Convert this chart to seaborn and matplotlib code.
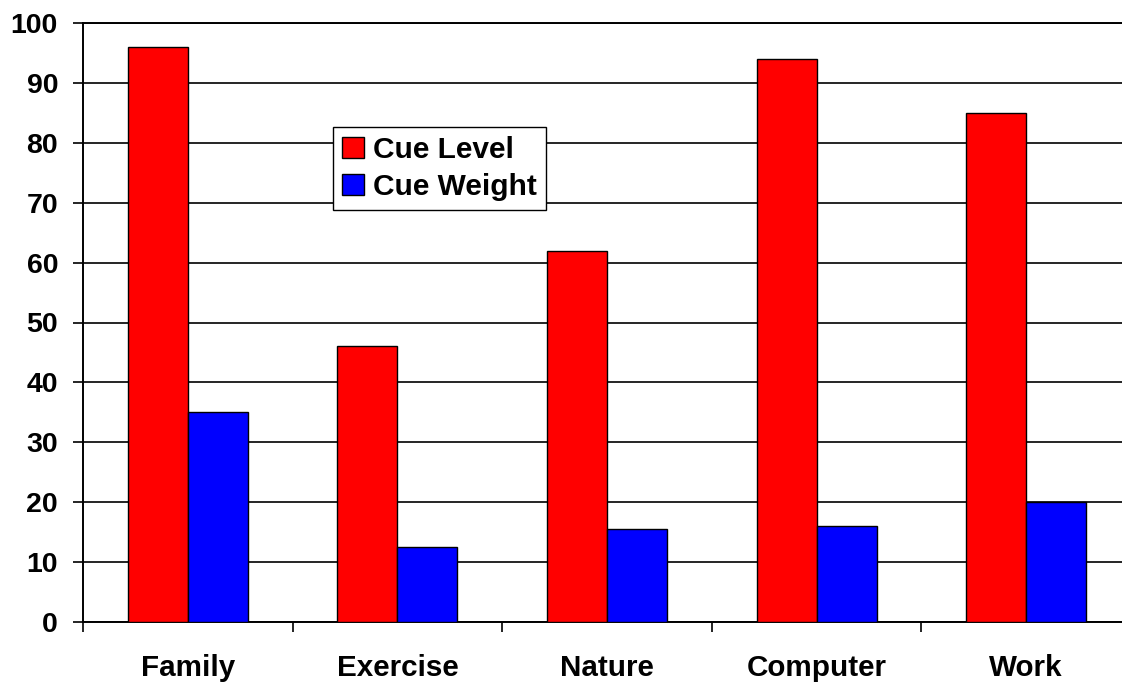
import matplotlib
matplotlib.use("Agg")
import matplotlib.pyplot as plt
import seaborn as sns
import pandas as pd
import numpy as np
from matplotlib.ticker import FixedLocator

categories = ["Family", "Exercise", "Nature", "Computer", "Work"]
cue_level = [96, 46, 62, 94, 85]
cue_weight = [35, 12.5, 15.5, 16, 20]
series_names = ["Cue Level", "Cue Weight"]
y_ticks = [0, 10, 20, 30, 40, 50, 60, 70, 80, 90, 100]

df = pd.DataFrame({
    "category": categories * 2,
    "value": cue_level + cue_weight,
    "series": [series_names[0]] * len(categories) + [series_names[1]] * len(categories),
})

sns.set_theme(style="white")
plt.rcParams["font.family"] = ["Liberation Sans", "DejaVu Sans"]
plt.rcParams["font.weight"] = "bold"
plt.rcParams["text.color"] = "black"
plt.rcParams["xtick.color"] = "black"
plt.rcParams["ytick.color"] = "black"

fig = plt.figure(figsize=(11.22, 6.83), dpi=100)
ax = fig.add_axes([83 / 1122, 61 / 683, 1039 / 1122, 599 / 683])

sns.barplot(data=df, x="category", y="value", hue="series", order=categories,
            hue_order=series_names, palette=["#FF0000", "#0000FF"],
            width=0.573, edgecolor="black", linewidth=1.0, saturation=1,
            ax=ax, zorder=3)

ax.set_ylim(0, 100)
ax.set_xlim(-0.5, -0.5 + 1039 / 209.6)
ax.set_yticks(y_ticks)
ax.set_yticklabels([str(t) for t in y_ticks], fontsize=20.5, fontweight="bold",
                   color="black")
ax.yaxis.grid(True, color="black", linewidth=1.2, zorder=0)
ax.set_axisbelow(True)

ax.set_xticks(range(len(categories)))
ax.set_xticklabels(categories, fontsize=21.3, fontweight="bold", color="black")
ax.xaxis.set_minor_locator(FixedLocator(np.arange(-0.5, len(categories), 1.0)))
ax.tick_params(axis="x", which="major", length=0, pad=23, colors="black")
ax.tick_params(axis="x", which="minor", length=7, width=1.2, direction="out",
               color="black", bottom=True)
ax.tick_params(axis="y", which="major", length=7, width=1.2, direction="out",
               color="black", left=True, pad=11, labelcolor="black")

ax.set_xlabel("")
ax.set_ylabel("")

for side in ["left", "bottom", "top"]:
    ax.spines[side].set_visible(True)
    ax.spines[side].set_color("black")
    ax.spines[side].set_linewidth(1.4)
ax.spines["right"].set_visible(False)

handles, labels = ax.get_legend_handles_labels()
leg = ax.legend(handles, labels, loc="upper left",
                bbox_to_anchor=((333 - 83) / 1039, (622 - 127) / 599),
                borderaxespad=0, frameon=True, fancybox=False,
                prop={"size": 21.5, "weight": "bold"},
                handlelength=0.75, handleheight=0.75, handletextpad=0.3,
                labelspacing=0.3, borderpad=0.3, edgecolor="black",
                framealpha=1, labelcolor="black")
leg.get_frame().set_linewidth(1.0)
leg.set_zorder(5)

fig.savefig("out.png", dpi=100)
